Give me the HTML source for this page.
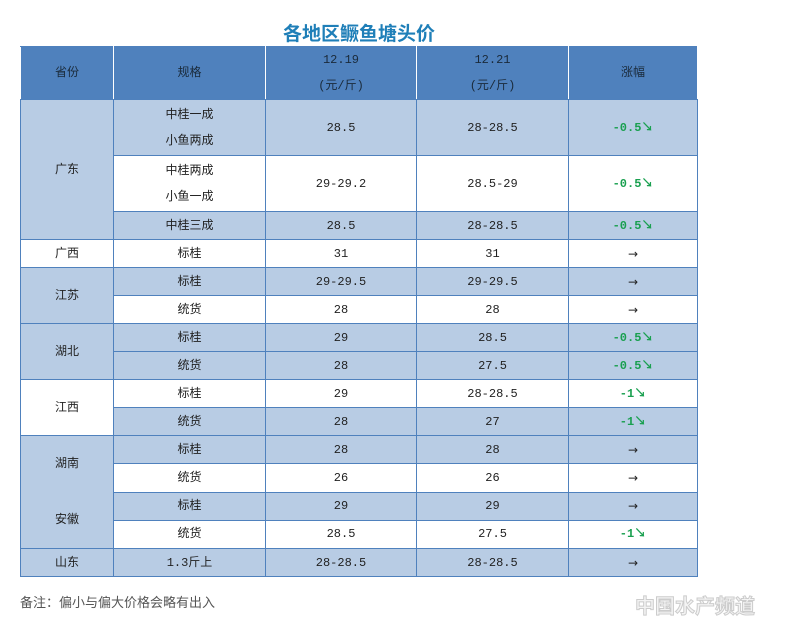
<!DOCTYPE html>
<html><head><meta charset="utf-8"><style>
body{margin:0;width:810px;height:629px;background:#fff;position:relative;font-family:"Liberation Sans","Noto Sans CJK SC",sans-serif;overflow:hidden}
.t{position:absolute;left:283px;top:19px;font-size:19px;font-weight:bold;color:#1f7fb8;font-family:"Noto Sans CJK SC",sans-serif}
table{position:absolute;left:20px;top:46px;border-collapse:collapse;table-layout:fixed;width:677px}
td{border:1.5px solid #4f81bd;text-align:center;font-size:12px;color:#222;padding:0;font-family:"Liberation Mono","Noto Sans CJK SC",monospace;box-sizing:border-box;line-height:14px}
.h td{background:#4f81bd;color:#1a2a3a;height:53px;border-color:#4f81bd #fff}
.b{background:#b8cce4}
.g{color:#1aa050;font-weight:bold;font-family:"Liberation Mono","Noto Sans CJK SC",monospace;font-size:12px}
.a{font-size:12px;font-family:"DejaVu Sans",sans-serif}
tr.r td{height:28px}
tr.d td{height:56px}
.l{line-height:26px}
.n{position:absolute;left:20px;top:592px;font-size:13px;color:#555;font-family:"Noto Sans CJK SC",sans-serif}
.w{position:absolute;left:635px;top:590px;font-size:20px;color:#f4f4f4;font-weight:bold;-webkit-text-stroke:1px #ccc;font-family:"Noto Sans CJK SC",sans-serif}
</style></head><body>
<div class="t">各地区鳜鱼塘头价</div>
<table>
<colgroup><col style="width:93px"><col style="width:152px"><col style="width:151px"><col style="width:152px"><col style="width:129px"></colgroup>
<tr class="h"><td>省份</td><td>规格</td><td class="l">12.19<br>(元/斤)</td><td class="l">12.21<br>(元/斤)</td><td>涨幅</td></tr>
<tr class="d b"><td rowspan="3" class="b">广东</td><td class="l">中桂一成<br>小鱼两成</td><td>28.5</td><td>28-28.5</td><td class="g">-0.5↘</td></tr>
<tr class="d"><td class="l">中桂两成<br>小鱼一成</td><td>29-29.2</td><td>28.5-29</td><td class="g">-0.5↘</td></tr>
<tr class="r b"><td>中桂三成</td><td>28.5</td><td>28-28.5</td><td class="g">-0.5↘</td></tr>
<tr class="r"><td>广西</td><td>标桂</td><td>31</td><td>31</td><td class="a">→</td></tr>
<tr class="r b"><td rowspan="2" class="b">江苏</td><td>标桂</td><td>29-29.5</td><td>29-29.5</td><td class="a">→</td></tr>
<tr class="r"><td>统货</td><td>28</td><td>28</td><td class="a">→</td></tr>
<tr class="r b"><td rowspan="2" class="b">湖北</td><td>标桂</td><td>29</td><td>28.5</td><td class="g">-0.5↘</td></tr>
<tr class="r b"><td>统货</td><td>28</td><td>27.5</td><td class="g">-0.5↘</td></tr>
<tr class="r"><td rowspan="2" style="background:#fff">江西</td><td>标桂</td><td>29</td><td>28-28.5</td><td class="g">-1↘</td></tr>
<tr class="r b"><td>统货</td><td>28</td><td>27</td><td class="g">-1↘</td></tr>
<tr class="r b"><td rowspan="4" class="b" style="line-height:56px">湖南<br>安徽</td><td>标桂</td><td>28</td><td>28</td><td class="a">→</td></tr>
<tr class="r"><td>统货</td><td>26</td><td>26</td><td class="a">→</td></tr>
<tr class="r b"><td>标桂</td><td>29</td><td>29</td><td class="a">→</td></tr>
<tr class="r"><td>统货</td><td>28.5</td><td>27.5</td><td class="g">-1↘</td></tr>
<tr class="r b"><td>山东</td><td>1.3斤上</td><td>28-28.5</td><td>28-28.5</td><td class="a">→</td></tr>
</table>
<div class="n">备注：偏小与偏大价格会略有出入</div>
<div class="w">中国水产频道</div>
</body></html>
